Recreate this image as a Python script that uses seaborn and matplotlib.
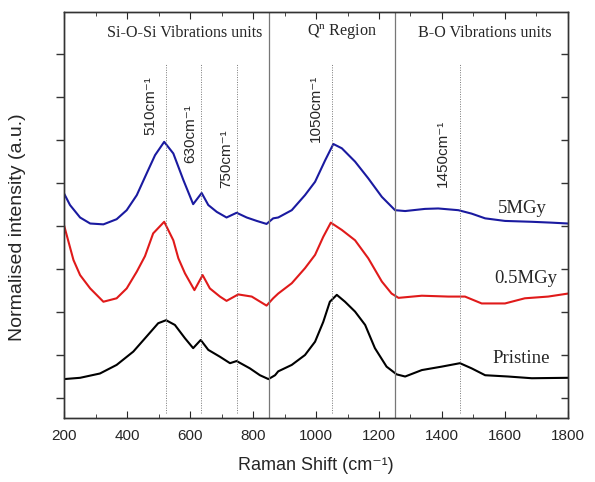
#python 3 script to replot the Raman spectra (pristine / 0.5MGy / 5MGy)
import pandas as pd
import seaborn as sns
import matplotlib.pyplot as plt
from matplotlib.ticker import MultipleLocator

#spectra (shift in cm-1, normalised intensity with offset)
pristine_x = [200, 251, 314, 367, 420, 462, 499, 524, 552, 584, 610, 634, 658, 695, 727, 748, 790, 822, 849,
              870, 880, 923, 965, 997, 1023, 1044, 1066, 1092, 1124, 1156, 1187, 1224, 1256, 1283,
              1336, 1399, 1457, 1494, 1537, 1610, 1685, 1800]
pristine_y = [0.44, 0.47, 0.57, 0.77, 1.08, 1.43, 1.74, 1.81, 1.70, 1.39, 1.16, 1.35, 1.12, 0.96, 0.81, 0.86, 0.69, 0.53, 0.44,
              0.53, 0.62, 0.77, 1.00, 1.31, 1.77, 2.24, 2.40, 2.24, 2.01, 1.70, 1.16, 0.73, 0.55, 0.50,
              0.65, 0.73, 0.81, 0.69, 0.53, 0.50, 0.46, 0.47]

mgy05_x = [200, 230, 251, 283, 325, 367, 399, 431, 457, 483, 518, 547, 563, 584, 614, 640, 663, 695, 716,
           753, 796, 843, 864, 880, 923, 965, 997, 1023, 1047, 1082, 1124, 1166, 1209, 1240, 1262,
           1336, 1420, 1473, 1526, 1600, 1663, 1737, 1800]
mgy05_y = [4.02, 3.21, 2.86, 2.55, 2.24, 2.32, 2.55, 2.94, 3.30, 3.83, 4.10, 3.67, 3.25, 2.90, 2.51, 2.86, 2.55, 2.36, 2.26,
           2.41, 2.36, 2.15, 2.32, 2.43, 2.67, 3.02, 3.33, 3.75, 4.08, 3.91, 3.67, 3.25, 2.71, 2.43, 2.33,
           2.38, 2.36, 2.36, 2.20, 2.20, 2.32, 2.36, 2.43]

mgy5_x = [200, 219, 251, 283, 325, 367, 399, 431, 462, 489, 518, 547, 579, 610, 637, 658, 685, 716, 748, 780, 812,
          843, 864, 880, 923, 965, 997, 1029, 1055, 1082, 1124, 1166, 1209, 1251, 1283, 1346, 1388,
          1452, 1494, 1537, 1600, 1685, 1748, 1800]
mgy5_y = [4.76, 4.49, 4.20, 4.06, 4.04, 4.16, 4.37, 4.72, 5.22, 5.65, 5.96, 5.69, 5.07, 4.51, 4.77, 4.49, 4.33, 4.20, 4.31, 4.20, 4.12,
          4.05, 4.18, 4.20, 4.37, 4.72, 5.03, 5.53, 5.91, 5.81, 5.50, 5.11, 4.68, 4.37, 4.35, 4.40, 4.41,
          4.37, 4.29, 4.18, 4.12, 4.10, 4.08, 4.06]

peaks = [524, 635, 749, 1050, 1457]
peak_labels = ["510cm⁻¹", "630cm⁻¹", "750cm⁻¹", "1050cm⁻¹", "1450cm⁻¹"]
peak_label_right = [495, 622, 737, 1022, 1425]
peak_label_bottom = [6.12, 5.47, 4.88, 5.95, 4.91]
region_edges = [850, 1250]
regions = [("Si-O-Si Vibrations units", 584), ("Q$^{n}$ Region", 1083), ("B-O Vibrations units", 1537)]
samples = [("5MGy", 1654, 4.42), ("0.5MGy", 1666, 2.79), ("Pristine", 1651, 0.93)]

df = pd.concat([
    pd.DataFrame({"shift": pristine_x, "intensity": pristine_y, "sample": "Pristine"}),
    pd.DataFrame({"shift": mgy05_x, "intensity": mgy05_y, "sample": "0.5MGy"}),
    pd.DataFrame({"shift": mgy5_x, "intensity": mgy5_y, "sample": "5MGy"}),
])

sns.set_style("ticks")
plt.rcParams["font.family"] = ["Liberation Sans", "DejaVu Sans"]
plt.rcParams["mathtext.fontset"] = "custom"
plt.rcParams["mathtext.rm"] = "Liberation Serif"
plt.rcParams["mathtext.it"] = "Liberation Serif"

fig = plt.figure(figsize=(5.95, 4.82), dpi=100)
ax = fig.add_axes([0.1076, 0.1328, 0.847, 0.8422])

palette = {"Pristine": "black", "0.5MGy": "#e01a1a", "5MGy": "#1a1aa0"}
sns.lineplot(data=df, x="shift", y="intensity", hue="sample", palette=palette,
             linewidth=1.5, legend=False, ax=ax, sort=False, estimator=None)

for e in region_edges:
    ax.axvline(e, color="#777777", linewidth=0.9)
for p in peaks:
    ax.plot([p, p], [-0.35, 7.8], color="#777777", linewidth=0.7, linestyle=(0, (1, 1.5)))

for xr, lab, yb in zip(peak_label_right, peak_labels, peak_label_bottom):
    ax.text(xr, yb, lab, rotation=90, ha="right", va="bottom", fontsize=11)

for txt, xc in regions:
    ax.text(xc, 8.5, txt, ha="center", va="center", fontsize=11.6, family="Liberation Serif")

for txt, xc, yc in samples:
    ax.text(xc, yc, txt, ha="center", va="center", fontsize=13.5, family="Liberation Serif")

ax.set_xlim(200, 1800)
ax.set_ylim(-0.465, 8.98)
ax.xaxis.set_major_locator(MultipleLocator(200))
ax.xaxis.set_minor_locator(MultipleLocator(100))
ax.yaxis.set_major_locator(MultipleLocator(1))
ax.set_yticklabels([])
ax.tick_params(axis="x", which="both", direction="in", top=True, labelsize=11)
ax.tick_params(axis="x", which="major", length=5, pad=8)
ax.tick_params(axis="x", which="minor", length=3)
# left ticks point out, right ticks point in (right ones on a twin axis)
ax.tick_params(axis="y", which="major", direction="out", left=True, right=False,
               length=6, width=1, color="#333333")
ax.tick_params(axis="y", which="minor", left=False, right=False)
ax2 = ax.twinx()
ax2.set_ylim(ax.get_ylim())
ax2.yaxis.set_major_locator(MultipleLocator(1))
ax2.tick_params(axis="y", which="major", direction="in", left=False, right=True,
                labelright=False, length=5, width=1, color="#333333")
ax2.tick_params(axis="y", which="minor", left=False, right=False)
for a in (ax, ax2):
    for s in a.spines.values():
        s.set_linewidth(1.0)
        s.set_color("#333333")

ax.set_xlabel("Raman Shift (cm⁻¹)", fontsize=13, labelpad=10)
ax.set_ylabel("Normalised intensity (a.u.)", fontsize=14)
ax.yaxis.set_label_coords(-0.075, 0.47)

plt.savefig("out.png", dpi=100)
